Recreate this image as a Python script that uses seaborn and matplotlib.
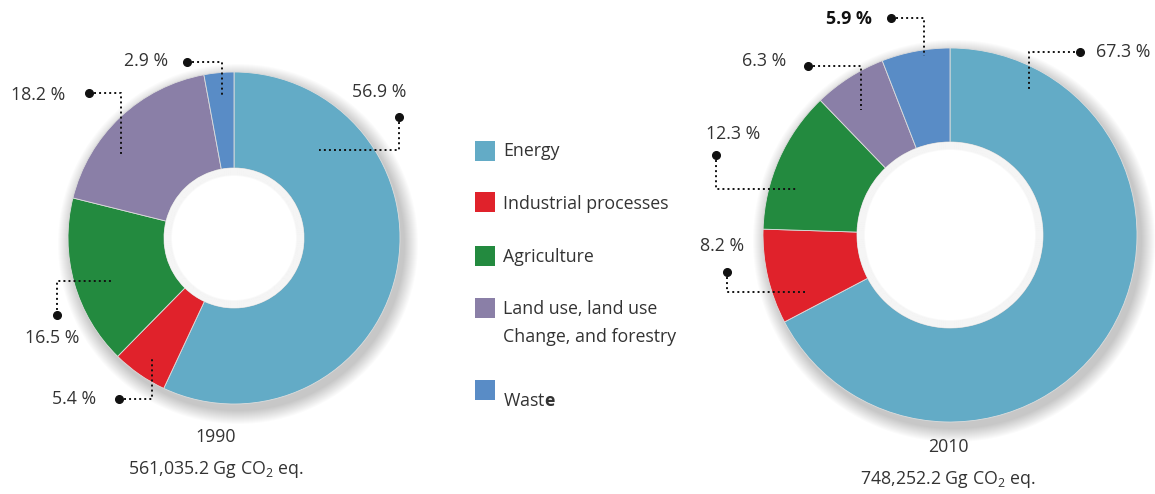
import matplotlib.pyplot as plt
import seaborn as sns
from matplotlib.patches import Circle, Wedge

# data
categories = ["Energy", "Industrial processes", "Agriculture",
              "Land use, land use\nChange, and forestry", "Waste"]
share_1990 = [56.9, 5.4, 16.5, 18.2, 2.9]
share_2010 = [67.3, 8.2, 12.3, 6.3, 5.9]
years = ["1990", "2010"]
totals = ["561,035.2", "748,252.2"]
hex_colors = ["#63abc6", "#e0222b", "#238a3f", "#8a7fa7", "#598cc6"]

W, H = 1155, 494
TEXT = "#333333"
FS = 12.8

sns.set_theme(style="white")
plt.rcParams["font.family"] = ["Open Sans", "DejaVu Sans"]
plt.rcParams["mathtext.fontset"] = "custom"
plt.rcParams["mathtext.rm"] = "Open Sans"
plt.rcParams["mathtext.bf"] = "Open Sans:bold"
palette = sns.color_palette(hex_colors)


def Y(y):
    # image-style y (top down) -> axes y
    return H - y


fig = plt.figure(figsize=(W / 100, H / 100), dpi=100)
ax = fig.add_axes([0, 0, 1, 1])

# layout per donut: center, outer radius, inner radius, caption positions
donuts = [
    dict(vals=share_1990, cx=234, cy=238, r=166, r_in=70, cap_x=216,
         year_y=437, tot_y=470,
         # text (x, y), leader polyline (dot -> corner -> end)
         labels=[((352, 92), [(399, 117), (399, 150), (319, 150)]),
                 ((52, 399), [(119, 399), (152, 399), (152, 359)]),
                 ((25, 338), [(57, 315), (57, 281), (113, 281)]),
                 ((11, 95), [(89, 93), (121, 93), (121, 157)]),
                 ((124, 61), [(187, 62), (222, 62), (222, 95)])],
         bold=[]),
    dict(vals=share_2010, cx=950, cy=235, r=187, r_in=93, cap_x=948,
         year_y=447, tot_y=480,
         labels=[((1096, 52), [(1080, 52), (1029, 52), (1029, 91)]),
                 ((700, 246), [(727, 272), (727, 292), (807, 292)]),
                 ((706, 134), [(716, 155), (716, 189), (796, 189)]),
                 ((742, 61), [(808, 66), (861, 66), (861, 110)]),
                 ((826, 19), [(891, 18), (924, 18), (924, 56)])],
         bold=[4]),
]

for i, d in enumerate(donuts):
    cx, cy, r = d["cx"], Y(d["cy"]), d["r"]
    # soft drop shadow (rings only, hole stays white)
    for k in range(14):
        ax.add_patch(Wedge((cx + 4, cy - 6), r + 14 - k, 0, 360,
                           width=r - d["r_in"], color="black",
                           alpha=0.014, lw=0, zorder=1))
    ax.pie(d["vals"], colors=palette, startangle=90, counterclock=False,
           center=(cx, cy), radius=r, frame=True,
           wedgeprops=dict(width=r - d["r_in"], edgecolor="#dddddd",
                           linewidth=0.6, zorder=2))
    ax.add_patch(Circle((cx, cy), d["r_in"], color="white", lw=0, zorder=2.5))
    # soft inset shading at the hole edge
    for k in range(10):
        ax.add_patch(Circle((cx, cy), d["r_in"] - 0.8 * k, facecolor="none",
                            edgecolor="black", alpha=0.018, lw=1.2, zorder=3))

    for j, ((tx, ty), pts) in enumerate(d["labels"]):
        xs = [p[0] for p in pts]
        ys = [Y(p[1]) for p in pts]
        ax.plot(xs, ys, ls=(0, (1, 1.6)), color="#111111", lw=1.4, zorder=5)
        ax.plot(xs[0], ys[0], "o", color="#111111", ms=5.5, zorder=6)
        ax.text(tx, Y(ty), f"{d['vals'][j]} %", ha="left", va="center",
                fontsize=FS, color="#111111" if j in d["bold"] else TEXT,
                fontweight="bold" if j in d["bold"] else "normal", zorder=6)

    ax.text(d["cap_x"], Y(d["year_y"]), years[i],
            ha="center", va="center", fontsize=FS, color=TEXT)
    ax.text(d["cap_x"], Y(d["tot_y"]),
            totals[i] + r" Gg CO$_\mathrm{2}$ eq.",
            ha="center", va="center", fontsize=FS, color=TEXT)

ax.set_xlim(0, W)
ax.set_ylim(0, H)
ax.set_aspect("equal")
ax.axis("off")

# legend
leg_y = [151, 202, 256, 308, 390]
text_y = [151, 204, 257, 323, 401]
for k, name in enumerate(categories):
    ax.add_patch(plt.Rectangle((475, Y(leg_y[k]) - 10), 20, 20,
                               color=palette[k], lw=0, zorder=4))
    label = "Wast$\\mathbf{e}$" if name == "Waste" else name
    ax.text(503, Y(text_y[k]), label, ha="left", va="center",
            fontsize=FS, color=TEXT, linespacing=1.7)

fig.savefig("out.png", dpi=100)
